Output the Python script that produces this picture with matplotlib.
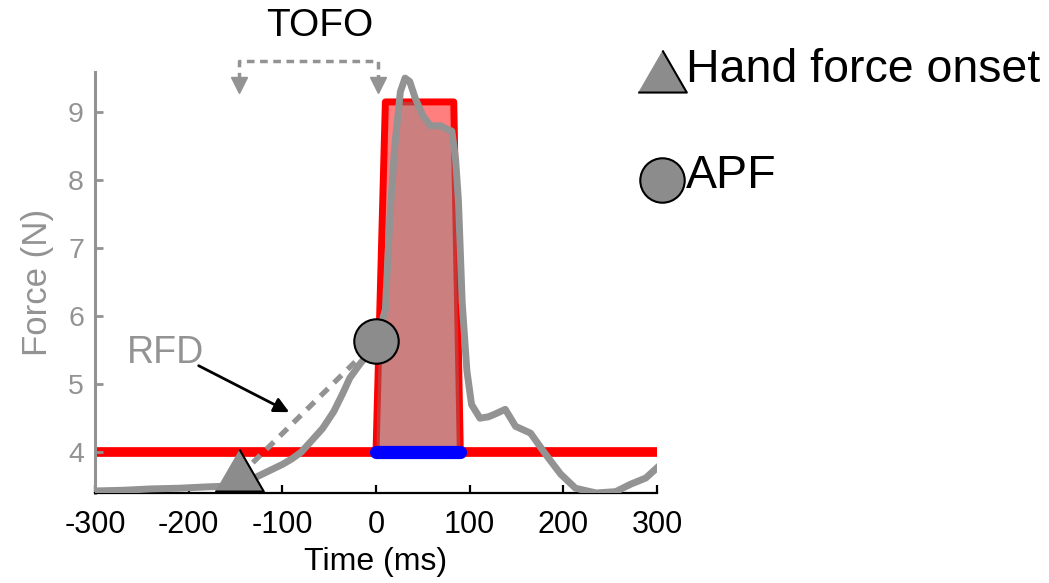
import numpy as np
import matplotlib.pyplot as plt
from matplotlib.lines import Line2D
from matplotlib.patches import Polygon

plt.rcParams['font.family'] = ['Liberation Sans', 'DejaVu Sans']
plt.rcParams['axes.unicode_minus'] = False

# grip force trace (ms, N)
time_ms = [-300, -270, -240, -210, -180, -160, -145, -130, -115, -100, -90,
           -80, -70, -57, -45, -35, -28, -17, -8, 0, 5, 10, 15, 20, 26, 31,
           36, 42, 50, 58, 69, 76, 81, 85, 88, 92, 97, 102, 111, 120, 127,
           138, 149, 165, 181, 197, 213, 235, 256, 272, 288, 300]
force_n = [3.43, 3.44, 3.46, 3.47, 3.49, 3.50, 3.53, 3.62, 3.72, 3.82, 3.90,
           4.00, 4.15, 4.35, 4.60, 4.88, 5.09, 5.30, 5.45, 5.60, 5.85, 6.10,
           7.50, 8.50, 9.30, 9.50, 9.45, 9.20, 8.95, 8.80, 8.80, 8.75, 8.72,
           8.30, 7.70, 6.20, 5.20, 4.70, 4.50, 4.52, 4.56, 4.63, 4.38, 4.28,
           3.97, 3.68, 3.47, 3.40, 3.42, 3.53, 3.62, 3.77]

threshold = 4.0
window_t = [0, 10, 83, 90]
window_f = [4.0, 9.15, 9.15, 4.0]

onset = (-146, 3.74)
apf = (0, 5.63)
rfd_t = [-146, 0]
rfd_f = [3.65, 5.63]

GRAY = '#939393'
MARK = '#8c8c8c'

fig = plt.figure(figsize=(10.49, 5.83), dpi=100)
ax = fig.add_axes([0.0906, 0.1544, 0.5357, 0.7221])

t = np.array(time_ms)
f = np.array(force_n)

ax.plot([-300, 300], [threshold, threshold], color='red', lw=7,
        solid_capstyle='butt', zorder=1)

box = Polygon(list(zip(window_t, window_f)), closed=True,
              facecolor=(1, 0, 0, 0.5), edgecolor='red', lw=5,
              joinstyle='round', zorder=2)
ax.add_patch(box)
m = (t >= 0) & (t <= 100)
under = ax.fill_between(t[m], threshold, f[m], color='#808080', alpha=0.4,
                        lw=0, zorder=3)
under.set_clip_path(box)

ax.plot([window_t[0], window_t[-1]], [threshold, threshold], color='blue',
        lw=9.5, solid_capstyle='round', zorder=4)

ax.plot(rfd_t, rfd_f, color=GRAY, lw=3.8, ls=(0, (2.0, 1.6)), zorder=5)
ax.plot(t, f, color=GRAY, lw=5, zorder=6, solid_joinstyle='round')

tri = [(-0.5, -0.433), (0.5, -0.433), (0, 0.433)]
ax.plot(*onset, marker=tri, ms=35, mfc=MARK, mec='black', mew=1.5,
        zorder=7, clip_on=False)
ax.plot(*apf, marker='o', ms=32, mfc=MARK, mec='black', mew=1.5,
        zorder=7, clip_on=False)

# RFD label and arrow
ax.annotate('', xy=(-90, 4.57), xytext=(-192, 5.29),
            arrowprops=dict(arrowstyle='-|>,head_length=0.9,head_width=0.45',
                            color='black', lw=2), zorder=8)
ax.text(-225, 5.46, 'RFD', color=GRAY, fontsize=27, ha='center',
        va='center', zorder=8)

# TOFO bracket above the axes
ax.plot([onset[0], onset[0], 2, 2], [9.47, 9.75, 9.75, 9.47], color=GRAY,
        lw=2.5, ls=(0, (2.2, 1.6)), clip_on=False)
ax.plot([onset[0], 2], [9.40, 9.40], ls='none', marker='v', ms=11,
        color=GRAY, clip_on=False)
ax.text(-60, 10.26, 'TOFO', fontsize=28, ha='center', va='center')

ax.set_xlim(-300, 300)
ax.set_ylim(3.40, 9.59)
ax.set_xticks(range(-300, 301, 100))
ax.set_yticks(range(4, 10))
for s in ['top', 'right']:
    ax.spines[s].set_visible(False)
ax.spines['left'].set_color(GRAY)
ax.spines['left'].set_linewidth(2.2)
ax.spines['bottom'].set_linewidth(1.6)
ax.tick_params(axis='x', direction='in', length=6, width=1.6, labelsize=22,
               pad=12)
ax.tick_params(axis='y', direction='in', length=6, width=2, labelsize=20.5,
               colors=GRAY, pad=8)
ax.set_xlabel('Time (ms)', fontsize=23, labelpad=5)
ax.set_ylabel('Force (N)', fontsize=25, color=GRAY, labelpad=10)

# marker key on the right
fig.add_artist(Line2D([0.631], [0.8774], marker=tri, ms=35, mfc=MARK,
                      mec='black', mew=1.5, transform=fig.transFigure))
fig.add_artist(Line2D([0.631], [0.691], marker='o', ms=32, mfc=MARK,
                      mec='black', mew=1.5, transform=fig.transFigure))
fig.text(0.654, 0.8593, 'Hand force onset', fontsize=33.5, va='baseline')
fig.text(0.654, 0.6775, 'APF', fontsize=33.5, va='baseline')

fig.savefig('out.png', dpi=100)
